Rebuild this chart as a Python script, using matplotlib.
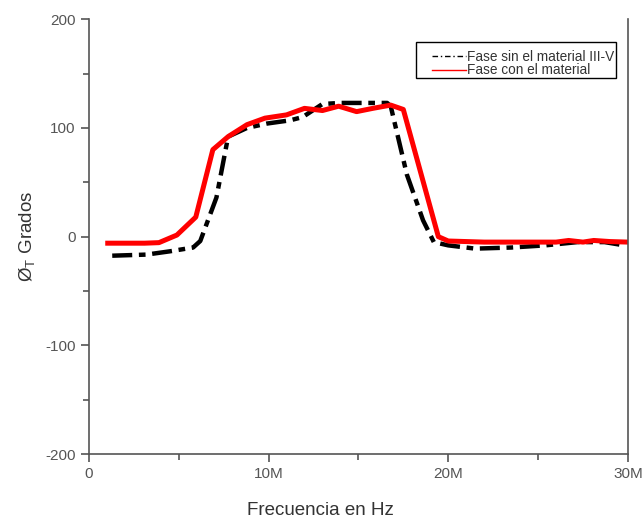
import matplotlib
matplotlib.use("Agg")
import matplotlib.pyplot as plt
from matplotlib.lines import Line2D
from matplotlib.patches import Rectangle
from matplotlib.ticker import FuncFormatter, MultipleLocator

plt.rcParams["font.family"] = ["Liberation Sans", "DejaVu Sans"]
plt.rcParams["axes.unicode_minus"] = False

# frecuencia (MHz) y fase (grados)
freq_sin = [1.3, 3.2, 4.5, 5.8, 6.2, 7.1, 7.75, 8.8, 9.9, 11.2, 11.9, 13.0, 14.0,
            16.6, 16.8, 17.7, 18.6, 19.2, 20.0, 21.5, 23.5, 25.4, 27.2, 28.7, 29.8]
fase_sin = [-17.5, -16.5, -13.5, -10, -4, 36, 92, 100, 104, 107, 110, 122, 123,
            123, 120, 57, 15, -5, -8, -11, -10, -8, -5, -5, -8]

freq_con = [1.05, 2.0, 3.1, 3.9, 4.9, 5.95, 6.9, 7.75, 8.8, 9.8, 11.0, 12.0, 13.0,
            13.9, 14.9, 15.8, 16.8, 17.5, 19.45, 20.0, 22.0, 24.0, 26.0, 26.7,
            27.5, 28.1, 29.0, 30.0]
fase_con = [-6, -6, -6, -5.5, 1.5, 18, 80, 92, 103, 109, 112, 118, 116,
            120, 115, 118, 121, 117, 0, -4, -5, -5, -5, -3.5,
            -5, -3.5, -4.5, -5]

lab_sin = "Fase sin el material III-V"
lab_con = "Fase con el material"

fig = plt.figure(figsize=(6.44, 5.19), dpi=100)
ax = fig.add_axes([0.138, 0.125, 0.837, 0.838])

ax.plot([f * 1e6 for f in freq_sin], fase_sin, color="black", lw=3.2,
        dashes=(4.5, 1.5, 1.5, 1.5), solid_capstyle="butt")
ax.plot([f * 1e6 for f in freq_con], fase_con, color="#ff0000", lw=3.6)

ax.set_xlim(0, 30e6)
ax.set_ylim(-200, 200)
ax.xaxis.set_major_locator(MultipleLocator(10e6))
ax.xaxis.set_minor_locator(MultipleLocator(5e6))
ax.yaxis.set_major_locator(MultipleLocator(100))
ax.yaxis.set_minor_locator(MultipleLocator(50))
ax.xaxis.set_major_formatter(FuncFormatter(lambda v, p: "0" if v == 0 else f"{v / 1e6:.0f}M"))

grey = "#555555"
for s in ["left", "bottom", "right"]:
    ax.spines[s].set_color(grey)
    ax.spines[s].set_linewidth(1.2)
ax.spines["top"].set_visible(False)
ax.tick_params(which="both", direction="out", colors=grey, labelsize=11,
               right=False, top=False)
ax.tick_params(which="major", length=6, width=1.2)
ax.tick_params(which="minor", length=4, width=1.2)

ax.set_xlabel("Frecuencia en Hz", fontsize=13.5, color="#333333")
ax.xaxis.set_label_coords(0.43, -0.11)
ax.set_ylabel(r"Ø$_\mathregular{T}$ Grados", fontsize=13.5, color="#333333")
ax.yaxis.set_label_coords(-0.095, 0.5)

# recuadro de la leyenda (el texto sobresale un poco, como en el original)
ax.add_patch(Rectangle((0.607, 0.864), 0.371, 0.083, transform=ax.transAxes,
                       fill=True, facecolor="white", edgecolor="black", lw=1.0,
                       zorder=4))
handles = [Line2D([], [], color="black", lw=1.0, dashes=(4, 2, 1, 2)),
           Line2D([], [], color="#ff0000", lw=1.0)]
leg = ax.legend(handles, [lab_sin, lab_con], loc="upper left",
                bbox_to_anchor=(0.636, 0.929), fontsize=9.8, frameon=False,
                handlelength=2.5, handletextpad=0.1,
                borderpad=0, labelspacing=-0.05, borderaxespad=0)
leg.set_zorder(5)
for t in leg.get_texts():
    t.set_color("#333333")

fig.savefig("out.png", dpi=100)
